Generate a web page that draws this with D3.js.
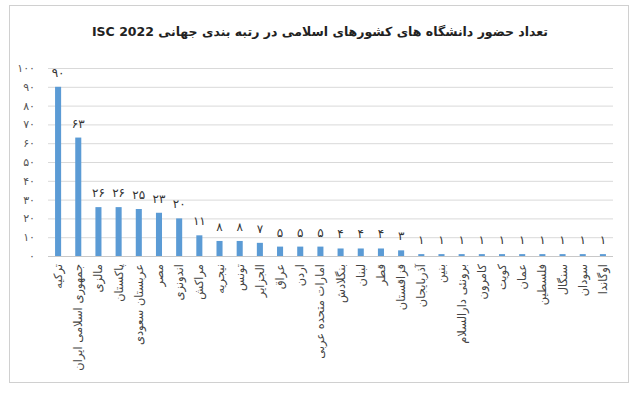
<!DOCTYPE html>
<html>
<head>
<meta charset="utf-8">
<script src="https://cdnjs.cloudflare.com/ajax/libs/d3/7.8.5/d3.min.js"></script>
<style>
  body { margin: 0; background: #fff; }
  text { font-family: "DejaVu Sans", "Noto Sans", sans-serif; }
</style>
</head>
<body>
<script>
/* DATA */
var countries = [
  "ترکیه", "جمهوری اسلامی ایران", "مالزی", "پاکستان", "عربستان سعودی", "مصر",
  "اندونزی", "مراکش", "نیجریه", "تونس", "الجزایر", "عراق", "اردن",
  "امارات متحده عربی", "بنگلادش", "لبنان", "قطر", "قزاقستان", "آذربایجان",
  "بنین", "برونئی دارالسلام", "کامرون", "کویت", "عمان", "فلسطین", "سنگال",
  "سودان", "اوگاندا"
];
var counts = [90, 63, 26, 26, 25, 23, 20, 11, 8, 8, 7, 5, 5, 5, 4, 4, 4, 3,
  1, 1, 1, 1, 1, 1, 1, 1, 1, 1];
var yTicks = [0, 10, 20, 30, 40, 50, 60, 70, 80, 90, 100];
var title = "تعداد حضور دانشگاه های کشورهای اسلامی در رتبه بندی جهانی ISC 2022";

/* GLOBAL */
var width = 640, height = 394;
var plot = { left: 48, right: 613, top: 68, bottom: 256 };

var fa = function(n) {
  return String(n).replace(/[0-9]/g, function(d) { return "۰۱۲۳۴۵۶۷۸۹"[+d]; });
};

var svg = d3.select("body").append("svg")
  .attr("width", width)
  .attr("height", height);

// frame
svg.append("rect")
  .attr("x", 9.5).attr("y", 5.5)
  .attr("width", 619).attr("height", 377)
  .attr("fill", "#fff")
  .attr("stroke", "#d0d0d0");

svg.append("text")
  .attr("x", 320).attr("y", 36)
  .attr("text-anchor", "middle")
  .attr("direction", "rtl")
  .attr("font-size", 12.5)
  .attr("font-weight", "bold")
  .attr("fill", "#222")
  .text(title);

var x = d3.scaleBand()
  .domain(countries)
  .range([plot.left, plot.right])
  .paddingInner(0.7)
  .paddingOuter(0.35);

var y = d3.scaleLinear()
  .domain([0, 100])
  .range([plot.bottom, plot.top]);

// gridlines + y labels
var yAxis = d3.axisLeft(y)
  .tickValues(yTicks)
  .tickSize(-(plot.right - plot.left))
  .tickPadding(13)
  .tickFormat(fa);

var gy = svg.append("g")
  .attr("transform", "translate(" + plot.left + ",0)")
  .call(yAxis);
gy.select(".domain").remove();
gy.selectAll(".tick line").attr("stroke", "#d9d9d9");
gy.selectAll(".tick text").attr("fill", "#555").attr("font-size", 11);

// baseline
svg.append("line")
  .attr("x1", plot.left).attr("x2", plot.right)
  .attr("y1", y(0) + 0.5).attr("y2", y(0) + 0.5)
  .attr("stroke", "#c8c8c8");

// bars
svg.append("g").selectAll("rect")
  .data(counts)
  .enter()
  .append("rect")
  .attr("x", function(d, i) { return x(countries[i]); })
  .attr("y", function(d) { return y(d); })
  .attr("width", x.bandwidth())
  .attr("height", function(d) { return y(0) - y(d); })
  .attr("fill", "#5b9bd5");

// value labels
svg.append("g").selectAll("text")
  .data(counts)
  .enter()
  .append("text")
  .attr("x", function(d, i) { return x(countries[i]) + x.bandwidth() / 2; })
  .attr("y", function(d) { return y(d) - 10; })
  .attr("text-anchor", "middle")
  .attr("font-size", 12)
  .attr("fill", "#333")
  .text(fa);

// category labels (rotated)
svg.append("g").selectAll("text")
  .data(countries)
  .enter()
  .append("text")
  .attr("transform", function(d) {
    var cx = x(d) + x.bandwidth() / 2 + 4;
    return "translate(" + cx + "," + (plot.bottom + 8) + ") rotate(-90)";
  })
  .attr("text-anchor", "end")
  .attr("font-size", 11.5)
  .attr("fill", "#444")
  .text(function(d) { return d; });
</script>
</body>
</html>
